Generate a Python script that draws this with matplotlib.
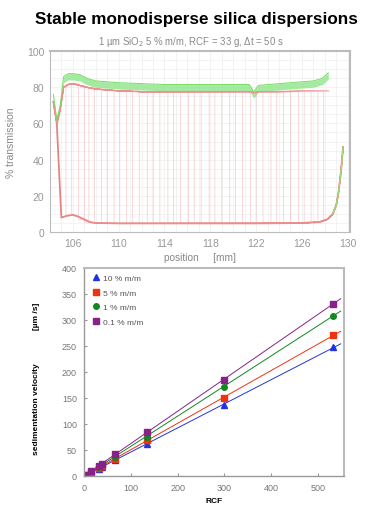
import numpy as np
import matplotlib
matplotlib.use("Agg")
from matplotlib import pyplot as plt

plt.rcParams['font.family'] = ['Liberation Sans', 'DejaVu Sans']

# ---- top chart: transmission profiles ----
pos = [104.3, 104.6, 104.9, 105.2, 105.6, 106.0, 106.6, 107.2, 108.0, 109.0,
       110.0, 112.0, 114.0, 116.0, 118.0, 120.0, 121.4, 121.8, 122.2, 124.0,
       126.0, 127.0, 127.8, 128.3]
clear_pink = [72, 60, 68, 80, 81.5, 82, 81, 80, 79, 78.5,
              78, 77.5, 77.5, 77.5, 77.5, 77.5, 77.5, 77, 77.5, 77.5,
              78, 78, 78, 78]
clear_green = [76, 62, 70, 86, 87.5, 87.5, 87, 85, 83.5, 83,
               82.5, 82, 81.5, 81.5, 81.5, 81.5, 81.5, 77.5, 81, 82,
               83, 83.5, 85, 88]
band_width = 3.5

pos_turbid = [104.6, 105.0, 105.5, 106.0, 106.5, 107.0, 107.5, 108.0, 110.0,
              114.0, 118.0, 122.0, 126.0, 127.5, 128.2, 128.7, 129.0, 129.2,
              129.4, 129.6]
turbid = [60, 8, 9, 9.5, 8.5, 7, 5.5, 5, 4.8,
          4.8, 4.8, 4.8, 5, 5.5, 7, 10, 15, 22,
          33, 47]

fronts = [105.4, 105.9, 106.5, 107.0, 107.4, 107.9, 108.5, 109.0, 109.6, 110.1,
          110.7, 111.2, 111.8, 112.5, 113.0, 113.6, 114.3, 114.8, 115.4, 116.1,
          116.6, 117.2, 117.9, 118.4, 119.0, 119.7, 120.2, 120.8, 121.5, 122.0,
          122.6, 123.3, 123.8, 124.4, 125.0, 125.7, 126.2, 126.8, 127.4, 127.9]

# ---- bottom chart: sedimentation velocity vs RCF ----
rcf = [2, 15, 33, 38, 67, 134, 299, 531]
v_10 = [1, 7, 14, 17, 30, 62, 136, 247]
v_5 = [1, 8, 15, 19, 33, 68, 150, 270]
v_1 = [1, 9, 17, 21, 37, 75, 171, 308]
v_01 = [1, 10, 19, 23, 42, 85, 185, 330]
series = [("10 % m/m", v_10, "#2233dd", "^", 4.5),
          ("5 % m/m", v_5, "#ee3311", "s", 5),
          ("1 % m/m", v_1, "#118822", "o", 4),
          ("0.1 % m/m", v_01, "#882288", "s", 5)]

fig = plt.figure(figsize=(3.78, 5.10), dpi=100)
fig.text(0.52, 0.962, "Stable monodisperse silica dispersions",
         ha='center', va='center', fontsize=12.3, fontweight='bold')
fig.text(0.505, 0.918, "1 µm SiO$_2$ 5 % m/m, RCF = 33 g, Δt = 50 s",
         ha='center', va='center', fontsize=6.9, color='#888888')

ax1 = fig.add_axes([0.132, 0.543, 0.794, 0.355])
pos_a = np.array(pos)
pt_a = np.array(pos_turbid)
cp = np.array(clear_pink)
cg = np.array(clear_green)
tb = np.array(turbid)


def profile(clear, f):
    m1 = pos_a < f
    m2 = pt_a > f
    x = np.concatenate([pos_a[m1], [f, f], pt_a[m2]])
    y = np.concatenate([clear[m1], [clear[m1][-1], tb[m2][0]], tb[m2]])
    return x, y


# first profile, all turbid
ax1.plot(pos_turbid, turbid, color='#e06666', lw=1.3, alpha=0.8)
for f in fronts:
    x, y = profile(cp, f)
    ax1.plot(x, y, color='#ee9090', lw=0.6, alpha=0.4)
ax1.plot(pos, clear_pink, color='#f09090', lw=1.2, alpha=0.6)
# last profiles: clear band in green
ax1.fill_between(pos, cg - band_width, cg, color='#8ee68a', alpha=0.8, lw=0)
ax1.plot(pos, clear_green, color='#77dd66', lw=0.7)
tail = pt_a > 128.6
ax1.plot(pt_a[tail], tb[tail], color='#99dd77', lw=0.9)

ax1.set_xlim(104.0, 130.2)
ax1.set_ylim(0, 100)
ax1.set_xticks([106, 110, 114, 118, 122, 126, 130])
ax1.set_yticks([0, 20, 40, 60, 80, 100])
ax1.set_xticks(np.arange(104, 131, 1), minor=True)
ax1.set_yticks(np.arange(0, 101, 5), minor=True)
ax1.grid(which='both', color='#eeeeee', lw=0.5)
ax1.set_axisbelow(True)
ax1.tick_params(which='both', length=0, labelsize=7.5, labelcolor='#999999', pad=4)
for s in ax1.spines.values():
    s.set_color('#bbbbbb')
ax1.spines['top'].set_linewidth(1.5)
ax1.spines['right'].set_linewidth(1.5)
ax1.set_xlabel("position     [mm]", fontsize=7.3, color='#888888', labelpad=3)
ax1.set_ylabel("% transmission", fontsize=7.5, color='#888888', labelpad=8)

ax2 = fig.add_axes([0.222, 0.065, 0.688, 0.408])
xfit = np.array([0, 548])
for label, v, c, mk, ms in series:
    k, b = np.polyfit(rcf, v, 1)
    ax2.plot(xfit, k * xfit + b, color=c, lw=0.7)
    ax2.plot(rcf, v, ls='none', marker=mk, ms=ms, color=c, label=label)
ax2.set_xlim(0, 555)
ax2.set_ylim(0, 400)
ax2.set_xticks([0, 100, 200, 300, 400, 500])
ax2.set_yticks(np.arange(0, 401, 50))
ax2.tick_params(direction='in', length=2, labelsize=6.5, labelcolor='#777777',
                color='#999999', pad=5)
for s in ax2.spines.values():
    s.set_color('#bbbbbb')
    s.set_linewidth(1.5)
ax2.spines['left'].set_color('#999999')
ax2.spines['left'].set_linewidth(1)
ax2.spines['bottom'].set_color('#999999')
ax2.spines['bottom'].set_linewidth(1)
ax2.set_xlabel("RCF", fontsize=6, fontweight='bold', labelpad=4)
ax2.set_ylabel("sedimentation velocity              [µm /s]", fontsize=6,
               fontweight='bold', labelpad=12)
ax2.yaxis.set_label_coords(-0.17, 0.47)
ax2.legend(loc='upper left', frameon=False, fontsize=6, labelcolor='#555555',
           handletextpad=0.3, borderaxespad=0.4, labelspacing=0.8,
           handlelength=1.2)

fig.savefig("out.png", dpi=100)
